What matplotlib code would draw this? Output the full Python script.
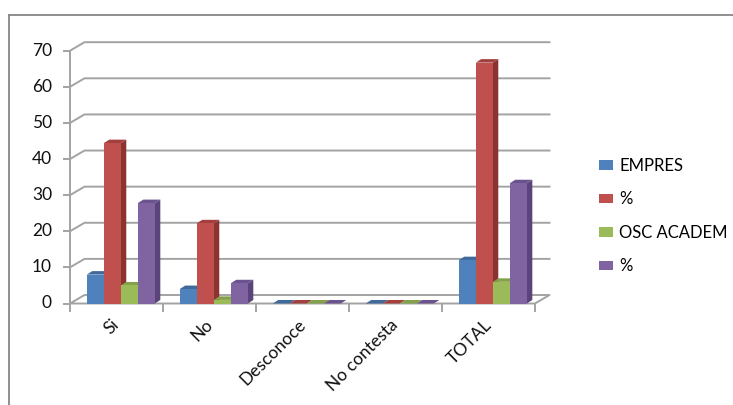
import matplotlib
matplotlib.use("Agg")
import matplotlib.pyplot as plt
from matplotlib.patches import Patch
from matplotlib.lines import Line2D

# respuestas por categoria
categorias = ["Si", "No", "Desconoce", "No contesta", "TOTAL"]
empres = [8, 4, 0, 0, 12]
pct_empres = [44.4, 22.2, 0, 0, 66.7]
osc_academ = [5, 1, 0, 0, 6]
pct_osc = [27.8, 5.6, 0, 0, 33.3]

series = [empres, pct_empres, osc_academ, pct_osc]
etiquetas = ["EMPRES", "%", "OSC ACADEM", "%"]
frente = ["#4F81BD", "#C0504D", "#9BBB59", "#8064A2"]
lado = ["#355A88", "#8B3331", "#6E8A3A", "#5A4479"]
tapa = ["#40699C", "#A3403D", "#84A04A", "#6B5390"]

plt.rcParams['font.family'] = ['Lato', 'DejaVu Sans']

W, H = 733, 405
fig = plt.figure(figsize=(W / 100, H / 100), dpi=100)

# marco del grafico
borde = "#878787"
fig.add_artist(Line2D([9 / W, 9 / W], [0, 1 - 15 / H], color=borde, lw=1.3))
fig.add_artist(Line2D([9 / W, 1], [1 - 15 / H, 1 - 15 / H], color=borde, lw=1.3))

y0, y70 = 303.5, 50.7
ax = fig.add_axes([70 / W, (H - y0) / H, 465 / W, (y0 - y70) / H])
ax.set_xlim(-0.5, 4.5)
ax.set_ylim(0, 70)
ax.axis('off')

px_x = 5 / 465
px_y = 70 / (y0 - y70)

# profundidad de la pared del fondo y de las barras
bx, by = 14.5 * px_x, 8.5 * px_y
dx, dy = 5.5 * px_x, 3.5 * px_y

gris = "#A3A3A3"
lw = 1.4
for v in range(10, 80, 10):
    ax.plot([-0.5, -0.5 + bx, 4.5 + bx], [v, v + by, v + by],
            color=gris, lw=lw, clip_on=False, zorder=1)
# piso
ax.plot([-0.5, -0.5 + bx, 4.5 + bx, 4.5, -0.5], [0, by, by, 0, 0],
        color=gris, lw=lw, clip_on=False, zorder=1)
# eje vertical y marcas
ax.plot([-0.5, -0.5], [0, 70], color=gris, lw=lw, clip_on=False, zorder=1)
for v in range(0, 80, 10):
    ax.plot([-0.5 - 6 * px_x, -0.5], [v, v], color=gris, lw=lw,
            clip_on=False, zorder=1)
    ax.text(-0.5 - 18 * px_x, v, str(v), ha='right', va='center',
            fontsize=12.5, color="#111111")
# eje de categorias
for k in range(6):
    ax.plot([k - 0.5, k - 0.5], [-1 * px_y, -7 * px_y], color=gris, lw=lw,
            clip_on=False, zorder=1)

w = 0.183
for i in range(len(categorias)):
    for k, s in enumerate(series):
        v = s[i]
        x0 = i - 0.32 + k * w
        z = 10 + i * 10 + k * 2
        ax.fill([x0 + w, x0 + w + dx, x0 + w + dx, x0 + w],
                [0, dy, v + dy, v], color=lado[k], lw=0, zorder=z,
                clip_on=False)
        ax.fill([x0, x0 + dx, x0 + w + dx, x0 + w],
                [v, v + dy, v + dy, v], color=tapa[k], lw=0, zorder=z,
                clip_on=False)
        ax.bar(x0, v, width=w, align='edge', color=frente[k], lw=0,
               zorder=z + 1, clip_on=False)

for i, c in enumerate(categorias):
    ax.text(i + 6 * px_x, -13 * px_y, c, rotation=45, ha='right', va='top',
            fontsize=12.5, color="#111111")

handles = [Patch(facecolor=c) for c in frente]
fig.legend(handles, etiquetas, loc='center left',
           bbox_to_anchor=(591 / W, 1 - 216 / H), frameon=False,
           fontsize=12, handlelength=0.8, handleheight=0.5,
           handletextpad=0.4, labelspacing=1.05, borderpad=0)

fig.savefig("out.png", dpi=100)
